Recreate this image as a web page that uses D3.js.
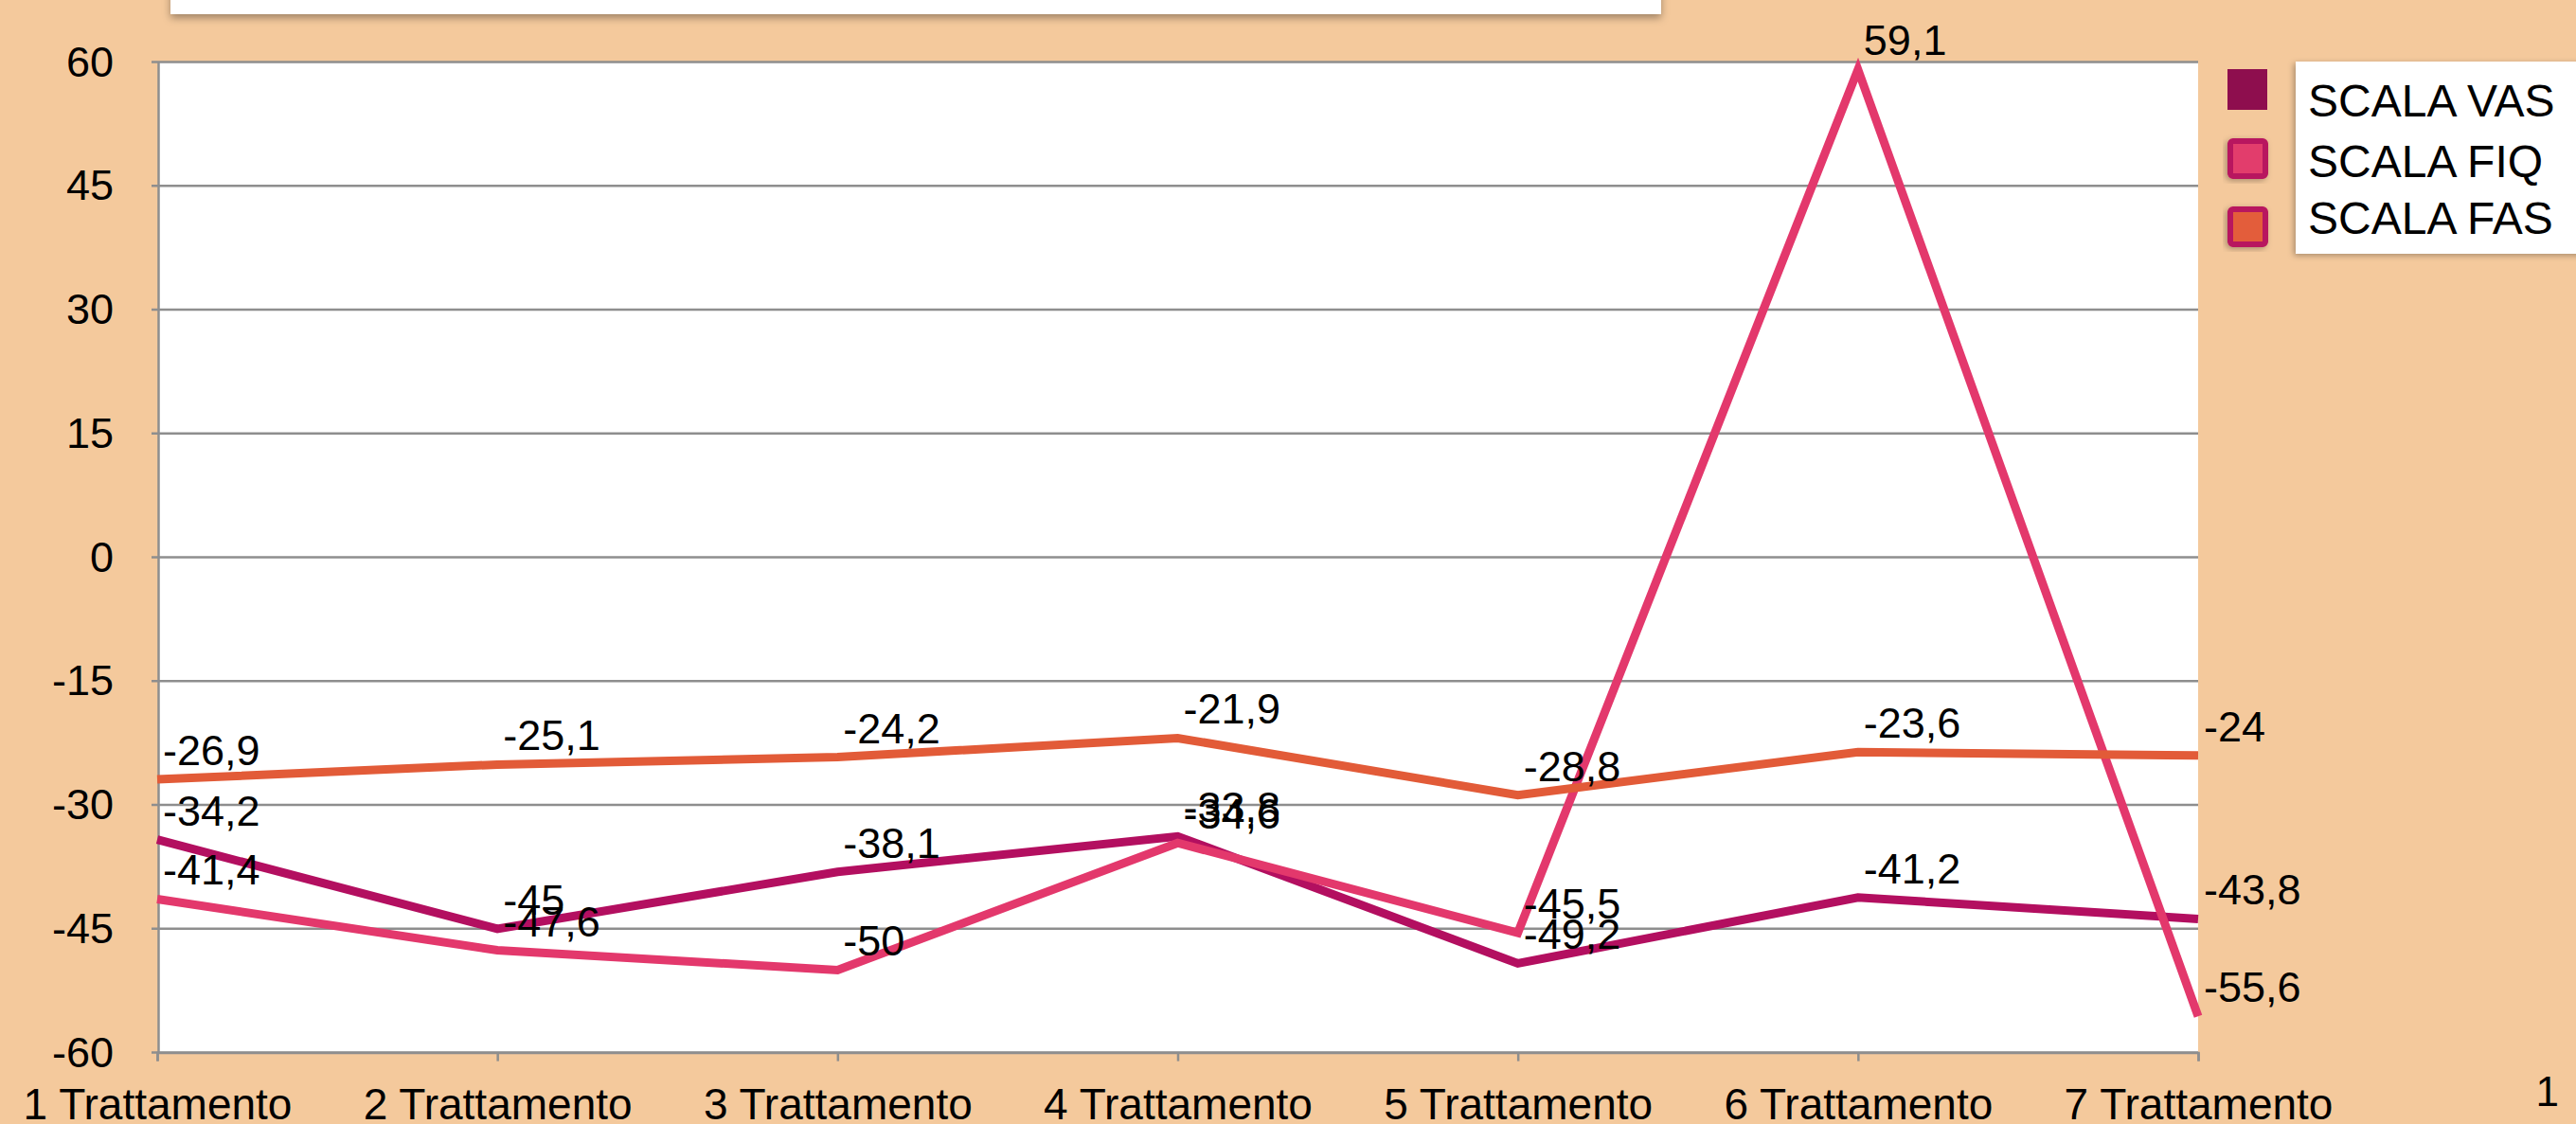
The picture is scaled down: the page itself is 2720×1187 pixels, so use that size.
<!DOCTYPE html>
<html><head><meta charset="utf-8">
<script src="https://cdn.jsdelivr.net/npm/d3@7"></script>
<style>
html,body{margin:0;padding:0;background:#F4C99C;}
svg{display:block;font-family:"Liberation Sans",Arial,Helvetica,sans-serif;}
</style></head>
<body>
<svg id="c" width="2720" height="1187"></svg>
<script>
const categories = ["1 Trattamento","2 Trattamento","3 Trattamento","4 Trattamento","5 Trattamento","6 Trattamento","7 Trattamento"];
const vas = [-34.2, -45, -38.1, -33.8, -49.2, -41.2, -43.8];
const fiq = [-41.4, -47.6, -50, -34.6, -45.5, 59.1, -55.6];
const fas = [-26.9, -25.1, -24.2, -21.9, -28.8, -23.6, -24];
const seriesNames = ["SCALA VAS","SCALA FIQ","SCALA FAS"];
const yTicks = [-60,-45,-30,-15,0,15,30,45,60];

(function(){
const W=2720,H=1187;
const svg=d3.select("#c");
const defs=svg.append("defs");
const f=defs.append("filter").attr("id","sh").attr("x","-20%").attr("y","-50%").attr("width","140%").attr("height","250%");
f.append("feDropShadow").attr("dx",0).attr("dy",4).attr("stdDeviation",4).attr("flood-color","#000").attr("flood-opacity",0.35);
const f2=defs.append("filter").attr("id","sh2").attr("x","-20%").attr("y","-20%").attr("width","140%").attr("height","140%");
f2.append("feDropShadow").attr("dx",-2).attr("dy",2).attr("stdDeviation",3).attr("flood-color","#000").attr("flood-opacity",0.3);

svg.append("rect").attr("width",W).attr("height",H).attr("fill","#F4C99C");

const pL=167,pR=2321,pT=65.6,pB=1111.6;
const x=d3.scalePoint().domain(categories).range([pL-1,pR]);
const y=d3.scaleLinear().domain([-60,60]).range([pB,pT]);

// title box (clipped at top)
svg.append("rect").attr("x",180).attr("y",-40).attr("width",1574).attr("height",55).attr("fill","#fff").attr("filter","url(#sh)");

// plot area
svg.append("rect").attr("x",pL).attr("y",pT).attr("width",pR-pL).attr("height",pB-pT).attr("fill","#fff");

// grid
const grid=svg.append("g");
grid.selectAll("line").data(yTicks).join("line")
  .attr("x1",pL-7).attr("x2",pR).attr("y1",d=>y(d)).attr("y2",d=>y(d))
  .attr("stroke","#8E8E8E").attr("stroke-width",2.5);

// y axis
const ya=svg.append("g").attr("transform",`translate(${pL},0)`)
  .call(d3.axisLeft(y).tickValues(yTicks).tickSize(0).tickPadding(47).tickFormat(d=>String(d)));
ya.select(".domain").attr("stroke","#8E8E8E").attr("stroke-width",2.5);
ya.selectAll("text").attr("font-size",45).attr("fill","#000").attr("font-family","Liberation Sans, Arial, sans-serif");

// x axis
const xa=svg.append("g").attr("transform",`translate(0,${pB})`)
  .call(d3.axisBottom(x).tickSize(9).tickPadding(29));
xa.select(".domain").attr("stroke","#8E8E8E").attr("stroke-width",2.5);
xa.selectAll(".tick line").attr("stroke","#8E8E8E").attr("stroke-width",2.5);
xa.selectAll("text").attr("font-size",46).attr("fill","#000").attr("dy","0.71em").attr("font-family","Liberation Sans, Arial, sans-serif");

const colors=["#B30F60","#E3386C","#E25B38"];
const data=[vas,fiq,fas];
const line=d3.line().x((d,i)=>x(categories[i])).y(d=>y(d));
svg.append("g").selectAll("path").data(data).join("path")
  .attr("d",line).attr("fill","none").attr("stroke",(d,i)=>colors[i])
  .attr("stroke-width",9).attr("stroke-linejoin","miter").attr("stroke-miterlimit",4);

// labels
const fmt=v=>String(v).replace(".",",");
data.forEach((s)=>{
  svg.append("g").selectAll("text").data(s).join("text")
    .attr("x",(d,i)=>x(categories[i])+6).attr("y",d=>y(d)-15)
    .attr("font-size",45).attr("fill","#000").text(d=>fmt(d));
});

// legend
svg.append("rect").attr("x",2424).attr("y",65).attr("width",310).attr("height",203).attr("fill","#fff").attr("filter","url(#sh2)");
const legFill=["#8E0E4E","#E23C6C","#E35D3A"];
const legY=[73,146,218];
const leg=svg.append("g");
seriesNames.forEach((n,i)=>{
  if(i===0){
    leg.append("rect").attr("x",2352).attr("y",legY[i]).attr("width",42).attr("height",43).attr("fill",legFill[i]);
  } else {
    leg.append("rect").attr("x",2355).attr("y",legY[i]+3).attr("width",37).attr("height",37).attr("rx",3)
      .attr("fill",legFill[i]).attr("stroke","#B8135E").attr("stroke-width",6).attr("filter","url(#sh2)");
  }
  leg.append("text").attr("x",2437).attr("y",[123,187,247][i]).attr("font-size",48).attr("fill","#000").text(n);
});

// page number
svg.append("text").attr("x",2702).attr("y",1168).attr("text-anchor","end").attr("font-size",44).attr("fill","#000").text("1");
})();
</script>
</body></html>
